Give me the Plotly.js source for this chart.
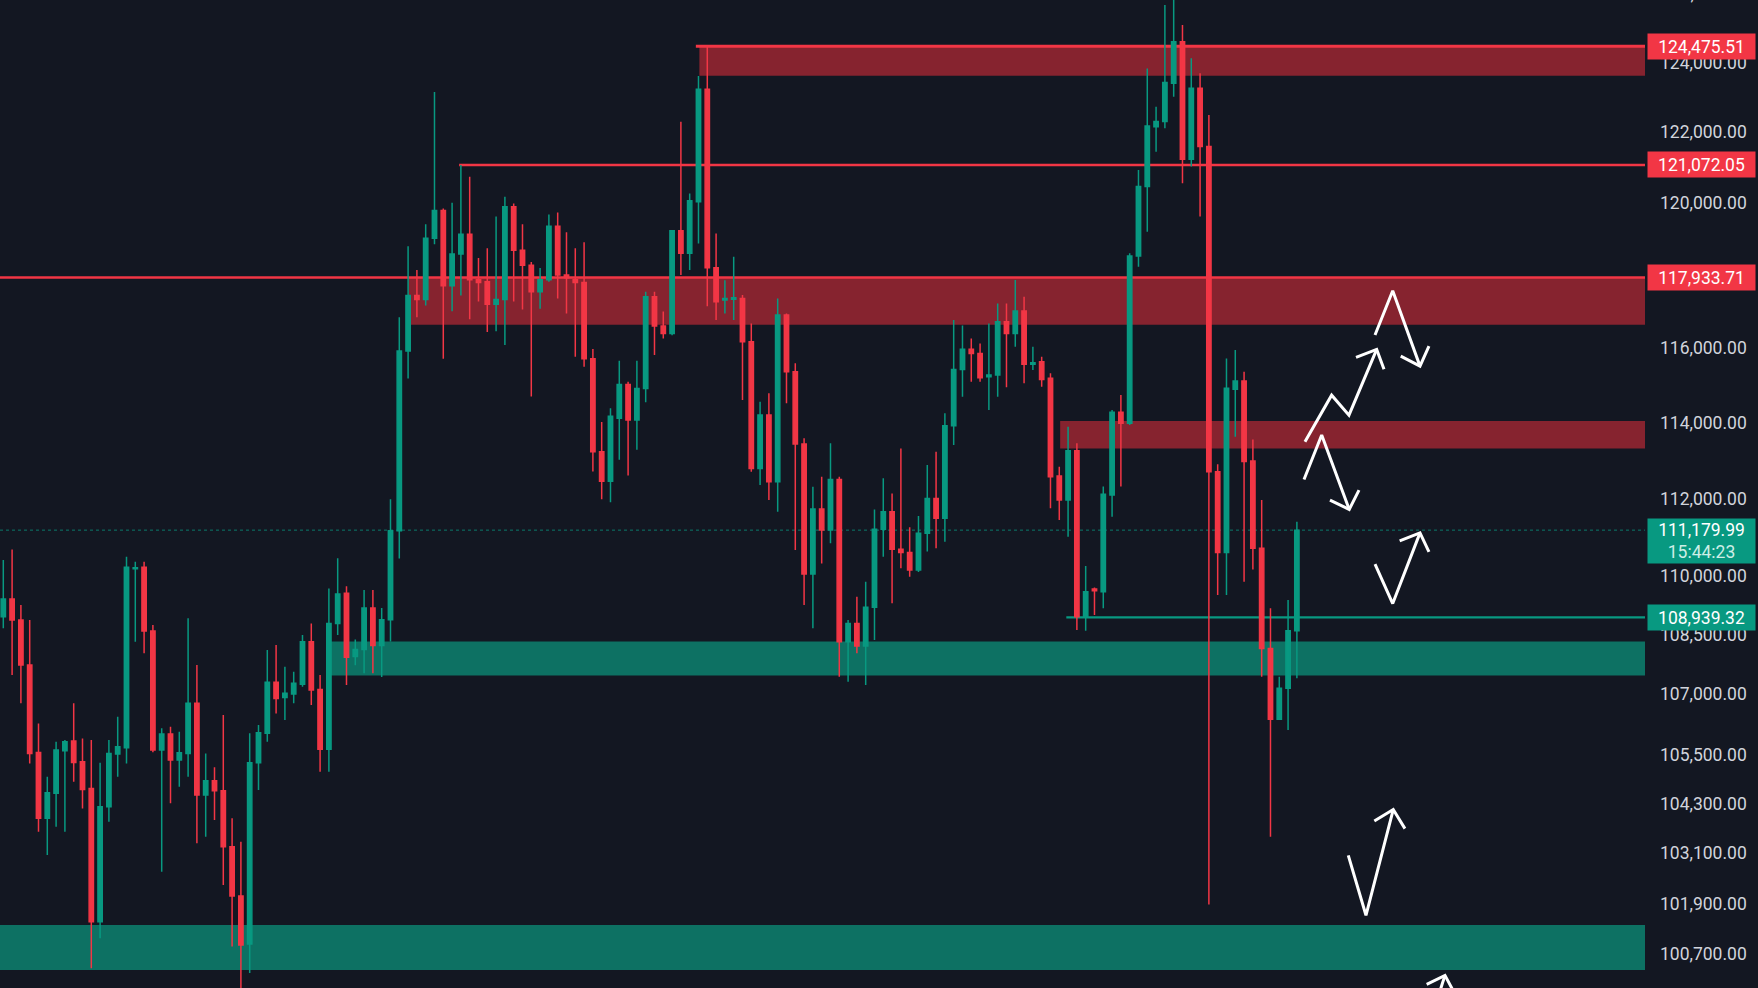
<!DOCTYPE html>
<html>
<head>
<meta charset="utf-8">
<script src="https://cdn.plot.ly/plotly-3.0.1.min.js"></script>
<style>html,body{margin:0;padding:0;background:#131722;}#chart{width:1758px;height:988px;}</style>
</head>
<body>
<div id="chart"></div>
<script>
// ---- Daily BTC candles ----
const openP = [108957,109405,108872,107735,105559,103946,104554,105601,105840,105329,
104675,101470,104229,105520,105675,110184,110219,108593,105617,106012,
105371,105534,106775,104513,104864,104617,103260,102079,100943,105304,
106029,107299,106923,107008,107249,108323,107123,105634,108786,109555,
107947,108128,109180,108227,108878,111163,115930,117438,117327,119019,
119791,117708,118580,119128,117871,117816,117198,117327,119901,118689,
118274,117545,117871,119350,118001,117871,117795,115715,113232,112453,
114124,115024,114073,114919,117404,116605,116403,119228,118600,120038,
123230,118203,117314,117337,117358,116178,112794,114208,112444,116904,
115368,113437,110045,111729,111185,112505,108323,108786,108213,109194,
111202,111659,110682,110598,110149,111097,112007,111487,113924,115431,
115978,115863,115235,115280,116724,116403,117015,115567,115639,115190,
112594,111966,113262,108957,109660,109595,112094,114279,113987,118525,
120467,122160,122305,123404,124609,121236,123259,121596,112705,110598,
114895,115117,112991,110708,108153,106376,107151,108601];
const highP = [110407,110681,109254,108872,106276,104960,105824,105865,106775,105904,
105865,105304,105865,106443,110493,110363,110363,108743,106154,106193,
106071,108914,107735,105534,105191,106482,103946,103382,106029,106234,
108111,108238,107693,107566,108491,108786,107481,109677,110450,109735,
108378,109635,109635,109180,111986,116843,118800,118143,119406,123156,
119847,120013,121072,120737,118472,118745,119625,120177,119988,119406,
118360,118196,119682,119735,119184,118745,118910,115982,114019,114387,
115664,115100,115664,117545,117545,117000,119247,122301,120272,123614,
124475.51,119153,117858,118505,117450,116675,114565,114787,117358,116950,
115594,113588,112312,112576,113455,112576,108872,109466,109850,111720,
112532,112138,113321,111254,111548,112883,113232,114253,116767,116620,
116269,116133,116675,117223,117223,117863,117407,116045,115773,115326,
112839,113897,113455,110253,109703,112315,114342,114741,118600,120934,
123833,122730,125680,126199,125096,124126,123692,122493,112900,115727,
115954,115368,113556,111966,109168,107442,109382,111400];
const lowP = [108661,107481,106775,105288,103623,103060,103742,103623,104839,104188,
100372,101075,103864,104960,105288,108323,108029,105560,102660,104311,
104716,104960,103342,103501,103905,102341,100880,98500,100260,104634,
105824,106524,106359,106775,107190,106733,105084,105084,108491,107232,
107730,107529,107529,107431,108327,110447,115183,116843,117165,118854,
115715,117006,117438,116788,117275,116443,116464,116091,117275,117058,
114705,117079,117816,117360,116950,115770,115504,112711,111986,111904,
113025,112608,113285,114546,115821,116269,116357,118001,118137,118875,
117146,116767,116950,116767,114607,112705,112355,111963,111659,114519,
110665,109254,108661,110320,110838,107442,107316,108029,107232,108363,
110493,109297,110193,109975,110100,110624,110708,110881,113410,114697,
115099,115099,114340,114696,114950,116045,115057,115413,114967,111747,
111443,111009,108618,108601,109000,109168,111531,112315,113942,118230,
119199,121450,122112,123016,120556,121027,119624,101875,109509,109509,
113632,109850,110161,107442,103501,106359,106112,107400];
const closeP = [109405,108872,107735,105534,103946,104571,105617,105824,105312,104650,
101470,104229,105534,105700,110219,110210,108593,105617,106012,105371,
105551,106775,104513,104864,104617,103260,102079,100919,105304,106046,
107299,106898,107025,107274,108323,107106,105634,108786,109534,107927,
108128,109180,108227,108878,111163,115930,117438,117327,119019,119791,
117708,118580,119128,117871,117795,117198,117327,119901,118689,118274,
117545,117871,119350,118001,117924,117795,115715,113232,112453,114178,
115024,114073,114919,117404,116605,116403,119228,118600,120067,123230,
118203,117269,117358,117380,116178,112794,114208,112444,116904,115368,
113437,110045,111729,111185,112505,108323,108786,108213,109194,111202,
111659,110682,110598,110149,111097,112007,111487,113924,115431,115978,
115863,115208,115280,116724,116403,117015,115567,115612,115162,112576,
111966,113262,108957,109595,109617,112112,114279,113987,118525,120467,
122180,122305,123423,124609,121236,123259,121596,112705,110598,114922,
115117,112973,110708,108153,106376,107151,108601,111179.99];

// ---- Levels, zones, labels ----
const lastPrice = 111179.99;
const countdown = '15:44:23';
const redLevels = [124475.51, 121072.05, 117933.71];
const redLevelStart = [78.7, 51.8, -0.4];
const greenLevel = 108939.32;
const greenLevelStart = 120.8;
// zones: [startIndex, lowPrice, highPrice]
const redZones = [[79.1, 123620, 124475.51], [46.0, 116640, 117933.71], [120.1, 113320, 114050]];
const greenZones = [[37.1, 107470, 108330], [-0.4, 100330, 101390]];
const tickValues = [124000,122000,120000,116000,114000,112000,110000,108500,107000,105500,104300,103100,101900,100700];
const tickLabels = ['124,000.00','122,000.00','120,000.00','116,000.00','114,000.00','112,000.00','110,000.00','108,500.00','107,000.00','105,500.00','104,300.00','103,100.00','101,900.00','100,700.00'];
const topCutLabel = '126,000.00';

// ---- Hand drawn arrows: [candle index, price] ----
const arrowPaths = [
  {shaft: [[147.92,113497],[150.95,114739],[152.92,114205],[156.07,115971]], head: [[153.72,115756],[156.07,115971],[156.90,115432]]},
  {shaft: [[155.88,116360],[157.89,117569],[160.99,115519]], head: [[158.80,115789],[160.99,115519],[162.01,116059]]},
  {shaft: [[147.81,112502],[149.82,113675],[152.95,111719]], head: [[150.76,111963],[152.95,111719],[154.06,112224]]},
  {shaft: [[155.88,110300],[157.89,109292],[160.99,111109]], head: [[158.68,110904],[160.99,111109],[162.01,110616]]},
  {shaft: [[152.84,103053],[154.85,101621],[157.95,104160]], head: [[155.80,103883],[157.95,104160],[159.28,103698]]},
  {shaft: [[162.92,99624],[163.83,100205]], head: [[161.75,99995],[163.83,100205],[164.74,99856]]}
];

const X_MIN = -0.375, X_MAX = 186.56;
const RED = '#f23645', GREEN = '#089981';
const idx = openP.map((_, i) => i);

const shapes = [];
function rect(x0, y0, y1, color) {
  shapes.push({type:'rect', layer:'below', xref:'x', yref:'y', x0:x0, x1:X_MAX, y0:y0, y1:y1,
    fillcolor:color, line:{width:0}});
}
function hline(x0, v, color, w, dash) {
  shapes.push({type:'line', layer:'below', xref:'x', yref:'y', x0:x0, x1:X_MAX, y0:v, y1:v,
    line:{color:color, width:w, dash:dash || 'solid'}});
}
redZones.forEach(z => rect(z[0], z[1], z[2], '#86232f'));
greenZones.forEach(z => rect(z[0], z[1], z[2], '#0d7163'));
hline(X_MIN, lastPrice, 'rgba(8,153,129,0.75)', 1, 'dot');
redLevels.forEach((v, k) => hline(redLevelStart[k], v, RED, k === 0 ? 3 : 2.3));
hline(greenLevelStart, greenLevel, GREEN, 2.3);

const traces = [];
traces.push({type:'candlestick', x: idx, open: openP, high: highP, low: lowP, close: closeP,
  increasing:{line:{color:GREEN, width:1.5}, fillcolor:GREEN},
  decreasing:{line:{color:RED, width:1.5}, fillcolor:RED},
  whiskerwidth:0, hoverinfo:'skip'});

arrowPaths.forEach(a => {
  [a.shaft, a.head].forEach(p => {
    traces.push({type:'scatter', mode:'lines', x:p.map(q => q[0]), y:p.map(q => q[1]),
      line:{color:'#ffffff', width:3}, hoverinfo:'skip'});
  });
});

const lblFont = {family:'Roboto, sans-serif', size:17.5, color:'#ffffff'};
const annotations = [];
redLevels.forEach(v => {
  annotations.push({xref:'paper', x:1, xanchor:'left', xshift:2, yref:'y', y:Math.log10(v), yanchor:'middle',
    text: v.toLocaleString('en-US', {minimumFractionDigits:2, maximumFractionDigits:2}),
    showarrow:false, bgcolor:RED, font:lblFont, width:105, height:23, borderpad:1, align:'center'});
});
annotations.push({xref:'paper', x:1, xanchor:'left', xshift:2, yref:'y', y:Math.log10(greenLevel), yanchor:'middle',
  text: greenLevel.toLocaleString('en-US', {minimumFractionDigits:2}),
  showarrow:false, bgcolor:GREEN, font:lblFont, width:105, height:23, borderpad:1, align:'center'});
annotations.push({xref:'paper', x:1, xanchor:'left', xshift:2, yref:'y', y:Math.log10(lastPrice), yanchor:'top', yshift:12,
  text: lastPrice.toLocaleString('en-US', {minimumFractionDigits:2}) + '<br><span style="color:#cdeee6">' + countdown + '</span>',
  showarrow:false, bgcolor:GREEN, font:lblFont, width:105, height:42, borderpad:1, align:'center'});
annotations.push({xref:'paper', x:1, xanchor:'left', xshift:14, yref:'paper', y:1, yanchor:'middle', yshift:6,
  text: topCutLabel, showarrow:false, font:{family:'Roboto, sans-serif', size:17.5, color:'#d1d4dc'}});

const layout = {
  width:1758, height:988,
  paper_bgcolor:'#131722', plot_bgcolor:'#131722',
  margin:{l:0, r:113, t:0, b:0},
  showlegend:false, hovermode:false,
  xaxis:{range:[X_MIN, X_MAX], visible:false, rangeslider:{visible:false}, fixedrange:true},
  yaxis:{type:'log', range:[4.99961, 5.09977], side:'right', tickmode:'array', tickvals:tickValues, ticktext:tickLabels,
    showgrid:false, zeroline:false, showline:false, ticks:'', ticklabelstandoff:14,
    tickfont:{family:'Roboto, sans-serif', size:17.5, color:'#d1d4dc'}, fixedrange:true},
  shapes: shapes,
  annotations: annotations
};

Plotly.newPlot('chart', traces, layout, {staticPlot:true, displayModeBar:false});
</script>
</body>
</html>
